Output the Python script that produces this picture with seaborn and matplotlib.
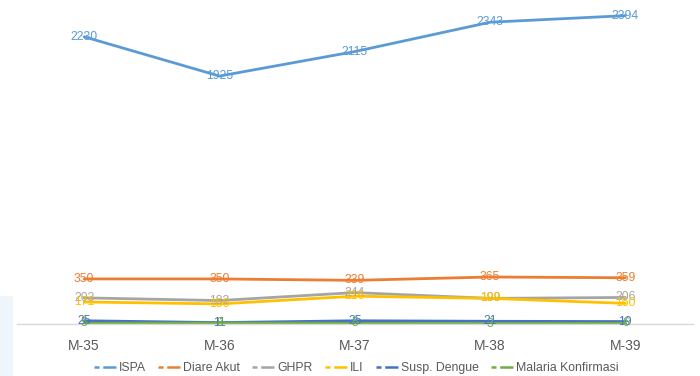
import matplotlib
matplotlib.use("Agg")
import matplotlib.pyplot as plt
import seaborn as sns
import pandas as pd
from matplotlib.patches import Rectangle

weeks = ["M-35", "M-36", "M-37", "M-38", "M-39"]
ispa = [2230, 1925, 2115, 2343, 2394]
diare_akut = [350, 350, 339, 365, 359]
ghpr = [203, 182, 244, 199, 206]
ili = [171, 156, 216, 199, 160]
susp_dengue = [25, 11, 25, 21, 19]
malaria_konfirmasi = [5, 8, 5, 3, 6]

series_names = ["ISPA", "Diare Akut", "GHPR", "ILI", "Susp. Dengue", "Malaria Konfirmasi"]
series_values = [ispa, diare_akut, ghpr, ili, susp_dengue, malaria_konfirmasi]
colors = ["#5B9BD5", "#ED7D31", "#A5A5A5", "#FFC000", "#4472C4", "#70AD47"]

rows = []
for name, vals in zip(series_names, series_values):
    for w, v in zip(weeks, vals):
        rows.append({"Minggu": w, "Kasus": v, "Penyakit": name})
df = pd.DataFrame(rows)

sns.set_theme(style="white")
plt.rcParams["font.family"] = ["Liberation Sans", "DejaVu Sans"]

fig = plt.figure(figsize=(7.0, 3.76), dpi=100)
# faint panel at the lower left edge
fig.patches.append(Rectangle((0, 0), 13 / 700, 80 / 376, transform=fig.transFigure,
                             facecolor="#EEF6FB", edgecolor="none", zorder=0))
ax = fig.add_axes([16.5 / 700, 52 / 376, (693 - 16.5) / 700, 322 / 376])
ax.set_facecolor("none")

palette = dict(zip(series_names, colors))
sns.lineplot(data=df, x="Minggu", y="Kasus", hue="Penyakit", hue_order=series_names,
             palette=palette, sort=False, linewidth=2, ax=ax, legend=False)

for name, vals, c in zip(series_names, series_values, colors):
    for i, v in enumerate(vals):
        ax.text(i, v, str(v), color=c, fontsize=8.8, ha="center", va="center", zorder=5)

ax.set_xlim(-0.5, 4.5)
ax.set_ylim(0, 2500)
ax.set_yticks([])
ax.set_xlabel("")
ax.set_ylabel("")
for s in ["top", "right", "left"]:
    ax.spines[s].set_visible(False)
ax.spines["bottom"].set_color("#D9D9D9")
ax.spines["bottom"].set_linewidth(1)
ax.tick_params(axis="x", length=0, pad=11, labelsize=10, labelcolor="#595959")

handles = [plt.Line2D([], [], color=c, linewidth=1.8, dashes=(2.0, 1.5, 5.0, 0.01))
           for c in colors]
fig.legend(handles, series_names, loc="center", bbox_to_anchor=(0.509, 8 / 376), ncol=6,
           frameon=False, fontsize=8.8, handlelength=1.8, handletextpad=0.25,
           columnspacing=1.0, labelcolor="#595959")

fig.savefig("out.png", dpi=100)
